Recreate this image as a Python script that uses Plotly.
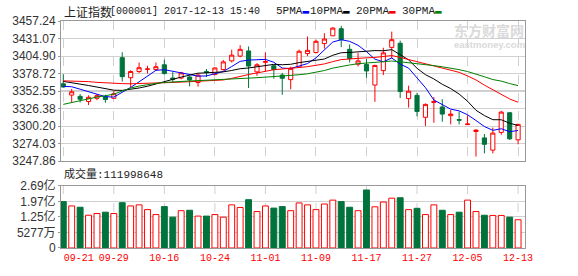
import plotly.graph_objects as go

# ---------------- data ----------------
OPEN = [3363.4, 3346.5, 3344.6, 3336.9, 3341.7, 3344.1, 3341.7, 3402.4, 3372.5, 3381.7,
        3385.0, 3384.6, 3391.8, 3372.0, 3372.0, 3373.5, 3365.3, 3381.7, 3377.4, 3384.6,
        3397.6, 3404.8, 3412.5, 3381.2, 3395.5, 3390.3, 3376.4, 3369.6, 3388.4, 3408.6,
        3410.1, 3423.5, 3435.1, 3445.7, 3414.9, 3392.7, 3392.3, 3361.5, 3383.1, 3417.8,
        3424.0, 3341.2, 3346.1, 3313.3, 3335.5, 3328.7, 3315.7, 3309.9, 3302.3, 3292.1,
        3282.5, 3264.2, 3290.7, 3320.1, 3279.6]
HIGH = [3377.8, 3355.7, 3348.0, 3346.1, 3348.0, 3347.0, 3352.5, 3410.6, 3383.6, 3395.2,
        3390.3, 3395.2, 3399.5, 3380.8, 3381.2, 3374.9, 3378.8, 3385.5, 3387.9, 3399.0,
        3414.4, 3421.1, 3419.2, 3394.2, 3410.6, 3391.8, 3379.7, 3388.9, 3414.4, 3434.1,
        3429.3, 3439.0, 3448.1, 3450.0, 3422.1, 3409.6, 3400.4, 3391.8, 3417.3, 3441.4,
        3427.9, 3360.5, 3349.9, 3334.0, 3343.6, 3340.3, 3324.4, 3322.0, 3316.2, 3295.5,
        3288.3, 3297.9, 3322.9, 3321.0, 3303.7]
LOW = [3357.6, 3335.5, 3335.5, 3331.6, 3338.8, 3335.0, 3340.8, 3366.7, 3358.1, 3379.3,
       3378.8, 3383.1, 3376.9, 3365.3, 3370.1, 3359.5, 3359.1, 3373.5, 3375.9, 3383.1,
       3395.2, 3402.9, 3357.1, 3375.4, 3381.7, 3371.1, 3347.0, 3355.2, 3387.0, 3404.8,
       3408.6, 3415.9, 3434.6, 3418.2, 3395.2, 3389.4, 3372.5, 3336.4, 3376.4, 3401.4,
       3342.2, 3327.8, 3314.8, 3300.3, 3305.1, 3306.6, 3302.7, 3302.7, 3301.8, 3254.6,
       3259.4, 3259.4, 3287.3, 3279.6, 3272.9]
CLOSE = [3358.6, 3351.4, 3340.3, 3343.2, 3345.6, 3339.8, 3348.5, 3374.0, 3381.7, 3387.4,
         3385.5, 3388.9, 3378.8, 3370.1, 3379.7, 3369.2, 3376.4, 3380.2, 3387.0, 3396.1,
         3406.2, 3414.9, 3389.9, 3391.8, 3396.5, 3384.6, 3371.6, 3386.5, 3412.0, 3413.4,
         3426.9, 3430.3, 3446.6, 3429.3, 3400.9, 3397.6, 3382.6, 3390.8, 3409.6, 3429.3,
         3351.8, 3352.3, 3322.0, 3332.6, 3336.9, 3318.1, 3318.1, 3309.0, 3303.2, 3294.1,
         3272.9, 3289.7, 3321.0, 3281.1, 3302.7]

MA5 = [3359.5, 3359.0, 3355.3, 3351.9, 3347.8, 3344.1, 3343.5, 3350.2, 3357.9, 3366.3,
       3375.4, 3383.5, 3384.5, 3382.1, 3380.6, 3377.3, 3374.8, 3375.1, 3378.5, 3381.8,
       3389.2, 3396.9, 3398.8, 3399.8, 3399.9, 3395.5, 3386.9, 3386.2, 3390.2, 3393.6,
       3402.1, 3413.8, 3425.8, 3429.3, 3426.8, 3420.9, 3411.4, 3400.2, 3396.3, 3402.0,
       3392.8, 3386.8, 3373.0, 3357.6, 3339.1, 3332.4, 3325.5, 3322.9, 3317.1, 3308.5,
       3299.5, 3293.8, 3296.2, 3291.8, 3293.5]
MA10 = [3367.0, 3365.2, 3363.0, 3360.8, 3358.5, 3356.2, 3353.8, 3353.5, 3355.0, 3357.1,
        3359.7, 3363.5, 3367.3, 3370.0, 3373.4, 3376.4, 3379.2, 3379.8, 3380.3, 3381.2,
        3383.3, 3385.9, 3387.0, 3389.1, 3390.8, 3392.4, 3391.9, 3392.5, 3395.0, 3396.7,
        3398.8, 3400.4, 3406.0, 3409.8, 3410.2, 3411.5, 3412.6, 3413.0, 3412.8, 3414.4,
        3406.9, 3399.1, 3386.6, 3377.0, 3370.6, 3362.6, 3356.2, 3348.0, 3337.3, 3323.8,
        3315.9, 3309.7, 3309.6, 3304.4, 3301.0]
MA20 = [3367.8, 3367.7, 3367.4, 3366.6, 3365.5, 3364.6, 3364.0, 3363.6, 3363.4, 3363.6,
        3364.0, 3364.5, 3365.0, 3365.4, 3365.9, 3366.4, 3367.0, 3367.7, 3368.4, 3369.1,
        3371.5, 3374.7, 3377.2, 3379.6, 3382.1, 3384.4, 3385.5, 3386.2, 3387.7, 3389.0,
        3391.0, 3393.1, 3396.5, 3399.5, 3400.5, 3401.9, 3402.2, 3402.8, 3403.9, 3405.6,
        3402.8, 3399.7, 3396.3, 3393.4, 3390.4, 3387.1, 3384.4, 3380.5, 3375.1, 3369.1,
        3361.4, 3354.4, 3348.1, 3340.7, 3335.8]
MA30 = [3332.6, 3335.5, 3338.5, 3341.2, 3343.5, 3345.5, 3348.0, 3352.5, 3357.0, 3360.0,
        3362.5, 3364.0, 3365.3, 3366.3, 3367.0, 3367.6, 3368.1, 3368.6, 3369.2, 3369.8,
        3370.5, 3371.2, 3371.8, 3372.5, 3373.3, 3374.0, 3374.7, 3375.5, 3376.9, 3378.3,
        3380.6, 3383.2, 3386.8, 3389.6, 3391.5, 3393.4, 3394.6, 3395.1, 3396.0, 3397.4,
        3396.3, 3395.1, 3393.2, 3392.0, 3390.5, 3388.8, 3386.9, 3384.5, 3381.7, 3378.3,
        3373.9, 3369.7, 3367.4, 3363.7, 3360.6]

# volume in 亿 (1e8)
VOL = [1.96, 1.76, 1.70, 1.33, 1.41, 1.47, 1.41, 1.91, 1.76, 1.81,
       1.59, 1.36, 1.73, 1.24, 1.54, 1.56, 1.29, 1.29, 1.36, 1.24,
       1.81, 1.69, 2.05, 1.50, 1.76, 1.66, 1.73, 1.54, 1.90, 1.81,
       1.59, 1.85, 2.03, 1.96, 1.70, 1.54, 2.50, 1.72, 1.94, 2.12,
       2.14, 1.59, 1.65, 1.36, 1.81, 1.56, 1.36, 1.47, 2.03, 1.50,
       1.33, 1.32, 1.32, 1.24, 1.12]

Y_TICKS = [3247.86, 3274.03, 3300.20, 3326.38, 3352.55, 3378.72, 3404.90, 3431.07, 3457.24]
V_TICKS = [-0.19, 0.5277, 1.25, 1.97, 2.69]
V_LABELS = ["0", "5277万", "1.25亿", "1.97亿", "2.69亿"]
TICK_POS = [1.85, 6, 12, 18, 24, 30, 36, 42, 48, 54]
TICK_LABELS = ["09-21", "09-29", "10-16", "10-24", "11-01", "11-09", "11-17", "11-27", "12-05", "12-13"]
GRID_IDX = [0, 6, 12, 18, 24, 30, 36, 42, 48, 54]

TITLE_CN = "上证指数"
TITLE_REST = "[000001] 2017-12-13 15:40"
VOL_TEXT = "成交量:111998648"
MA_NAMES = ["5PMA", "10PMA", "20PMA", "30PMA"]

# ---------------- style ----------------
W, H = 578, 276
L, R, T, B = 56, 53, 21, 20
PW, PH = W - L - R, H - T - B
RED = "#FF0000"
GREEN = "#00733C"
MA_COLORS = ["#0000FF", "#000000", "#FF0000", "#008000"]
GRID = "#D0D0D0"
BORDER = "#999999"
TXT = "#333333"


def px(xp):
    return (xp - L) / PW


def py(yp):
    return (H - B - yp) / PH


N = len(CLOSE)
X = list(range(N))
XR = [-0.27, 54.82]
YR = [Y_TICKS[0], Y_TICKS[-1]]
VR = [V_TICKS[0], V_TICKS[-1]]
MAIN_DOM = [py(166), 1.0]
VOL_DOM = [0.0, py(191.7)]

fig = go.Figure()
fig.add_trace(go.Candlestick(
    x=X, open=OPEN, high=HIGH, low=LOW, close=CLOSE, xaxis="x", yaxis="y",
    increasing=dict(line=dict(color=RED, width=1), fillcolor="white"),
    decreasing=dict(line=dict(color=GREEN, width=1), fillcolor=GREEN),
    whiskerwidth=0, showlegend=False, hoverinfo="skip"))
for arr, col in zip([MA5, MA10, MA20, MA30], MA_COLORS):
    fig.add_trace(go.Scatter(x=X, y=arr, mode="lines", line=dict(color=col, width=1),
                             xaxis="x", yaxis="y", showlegend=False, hoverinfo="skip"))

up = [c >= o for o, c in zip(OPEN, CLOSE)]
fig.add_trace(go.Bar(
    x=X, y=[v - VR[0] for v in VOL], base=VR[0], xaxis="x2", yaxis="y2", width=0.7,
    marker=dict(color=["white" if u else GREEN for u in up],
                line=dict(color=[RED if u else GREEN for u in up], width=1)),
    showlegend=False, hoverinfo="skip"))

axis_common = dict(showline=True, linecolor=BORDER, linewidth=1, mirror=True, zeroline=False)
fig.update_layout(
    width=W, height=H, margin=dict(l=L, r=R, t=T, b=B),
    paper_bgcolor="white", plot_bgcolor="white", showlegend=False,
    boxgap=0.3,
    xaxis=dict(domain=[0, 1], range=XR, anchor="y", tickvals=GRID_IDX, showticklabels=False,
               ticks="", showgrid=True, gridcolor=GRID, griddash="dash", gridwidth=1,
               rangeslider=dict(visible=False), **axis_common),
    yaxis=dict(domain=MAIN_DOM, range=YR, anchor="x", tickvals=Y_TICKS,
               ticktext=[f"{v:.2f}" for v in Y_TICKS], ticks="outside", ticklen=2,
               tickcolor=BORDER, showgrid=True, gridcolor=GRID,
               tickfont=dict(family="Liberation Sans, Arial", size=12, color=TXT), **axis_common),
    xaxis2=dict(domain=[0, 1], range=XR, anchor="y2", tickvals=TICK_POS, ticktext=TICK_LABELS,
                ticks="", showgrid=False,
                tickfont=dict(family="Liberation Mono, DejaVu Sans Mono", size=10, color=RED),
                **axis_common),
    yaxis2=dict(domain=VOL_DOM, range=VR, anchor="x2", tickvals=V_TICKS, ticktext=V_LABELS,
                ticks="outside", ticklen=2, tickcolor=BORDER, showgrid=True, gridcolor=GRID,
                tickfont=dict(family="Liberation Sans, Noto Sans CJK SC", size=12, color=TXT),
                **axis_common),
)

shapes = []
# darker middle line of the price chart
shapes.append(dict(type="line", xref="x domain", yref="y", x0=0, x1=1,
                   y0=Y_TICKS[4], y1=Y_TICKS[4], line=dict(color=BORDER, width=1), layer="below"))
for g in GRID_IDX:
    shapes.append(dict(type="line", xref="x2", yref="y2 domain", x0=g, x1=g, y0=0, y1=1,
                       line=dict(color=GRID, width=1, dash="dash"), layer="below"))
fig.update_layout(shapes=shapes)

ann = []
ann.append(dict(text=TITLE_CN, x=px(56.7), y=py(11), xref="paper", yref="paper",
                xanchor="left", yanchor="middle", showarrow=False,
                font=dict(family="Noto Sans CJK SC", size=12, color="#222222")))
ann.append(dict(text=TITLE_REST, x=px(104), y=py(11), xref="paper", yref="paper",
                xanchor="left", yanchor="middle", showarrow=False,
                font=dict(family="Liberation Mono, DejaVu Sans Mono", size=10, color="#222222")))
leg_x = [271, 306, 352, 399]
for name, col, lx in zip(MA_NAMES, MA_COLORS, leg_x):
    ann.append(dict(text=f"{name}<span style='color:{col}'>▬</span>", x=px(lx), y=py(11),
                    xref="paper", yref="paper", xanchor="left", yanchor="middle", showarrow=False,
                    font=dict(family="Liberation Mono, DejaVu Sans Mono", size=11, color="#222222")))
ann.append(dict(text=VOL_TEXT, x=px(56.7), y=py(179.5), xref="paper", yref="paper",
                xanchor="left", yanchor="middle", showarrow=False,
                font=dict(family="Liberation Mono, Noto Sans CJK SC", size=11, color="#222222")))
# watermark
ann.append(dict(text="<b>东方财富网</b>", x=px(525), y=py(30), xref="paper", yref="paper",
                xanchor="right", yanchor="middle", showarrow=False, borderpad=0,
                font=dict(family="Noto Sans CJK SC", size=14, color="#DADADA")))
ann.append(dict(text="<b>eastmoney.com</b>", x=px(526), y=py(45.5), xref="paper", yref="paper",
                xanchor="right", yanchor="middle", showarrow=False, borderpad=0,
                font=dict(family="Liberation Sans", size=9.5, color="#DADADA")))
fig.update_layout(annotations=ann)

fig.write_html("out.html")
